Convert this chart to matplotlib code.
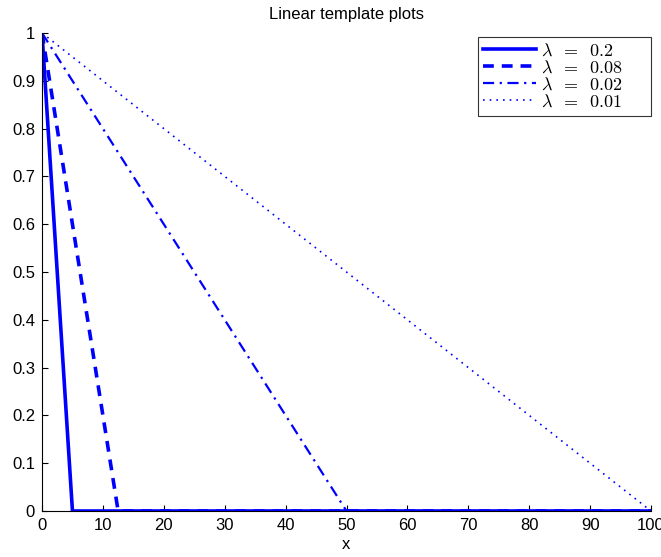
import matplotlib
matplotlib.use("Agg")
import matplotlib.pyplot as plt

lambdas = [0.2, 0.08, 0.02, 0.01]
labels = [r"$\lambda\;\;=\;\;0.2$", r"$\lambda\;\;=\;\;0.08$", r"$\lambda\;\;=\;\;0.02$", r"$\lambda\;\;=\;\;0.01$"]
x_end = 100
xticks = list(range(0, 101, 10))
yticks = [0, 0.1, 0.2, 0.3, 0.4, 0.5, 0.6, 0.7, 0.8, 0.9, 1]
ytick_labels = ["0", "0.1", "0.2", "0.3", "0.4", "0.5", "0.6", "0.7", "0.8", "0.9", "1"]

plt.rcParams['font.family'] = ['Liberation Sans', 'DejaVu Sans']
plt.rcParams['mathtext.fontset'] = 'cm'

fig = plt.figure(figsize=(6.61, 5.57), dpi=100)
ax = fig.add_axes([42/661, 1-511/557, (651-42)/661, (511-33)/557])

styles = [dict(ls='-', lw=2.6), dict(ls=(0, (3, 2.2)), lw=2.6),
          dict(ls=(0, (5, 2.5, 1, 2.5)), lw=1.6), dict(ls=(0, (1, 3)), lw=1.2)]
for lam, lab, st in zip(lambdas, labels, styles):
    xs = [0, 1/lam, x_end] if 1/lam < x_end else [0, 1/lam]
    ys = [1, 0, 0] if 1/lam < x_end else [1, 0]
    ax.plot(xs, ys, color='#0000ff', label=lab, **st)

ax.set_xlim(0, 100)
ax.set_ylim(0, 1)
ax.set_xticks(xticks)
ax.set_yticks(yticks)
ax.set_yticklabels(ytick_labels)
ax.tick_params(direction='in', labelsize=12, length=4, pad=5)
for s in ['top', 'right']:
    ax.spines[s].set_visible(False)
ax.set_title("Linear template plots", fontsize=12, pad=10)
ax.set_xlabel("x", fontsize=12, labelpad=3)
leg = ax.legend(loc='upper left', bbox_to_anchor=(478/661, 1-108/557, 173/661, 71/557),
                bbox_transform=fig.transFigure, mode='expand', fontsize=13, frameon=True,
                fancybox=False, edgecolor='black', handlelength=2.9,
                handletextpad=0.3, borderaxespad=0.0, labelspacing=0.0,
                borderpad=0.3)
leg.get_frame().set_linewidth(0.8)
fig.savefig("out.png", dpi=100)
